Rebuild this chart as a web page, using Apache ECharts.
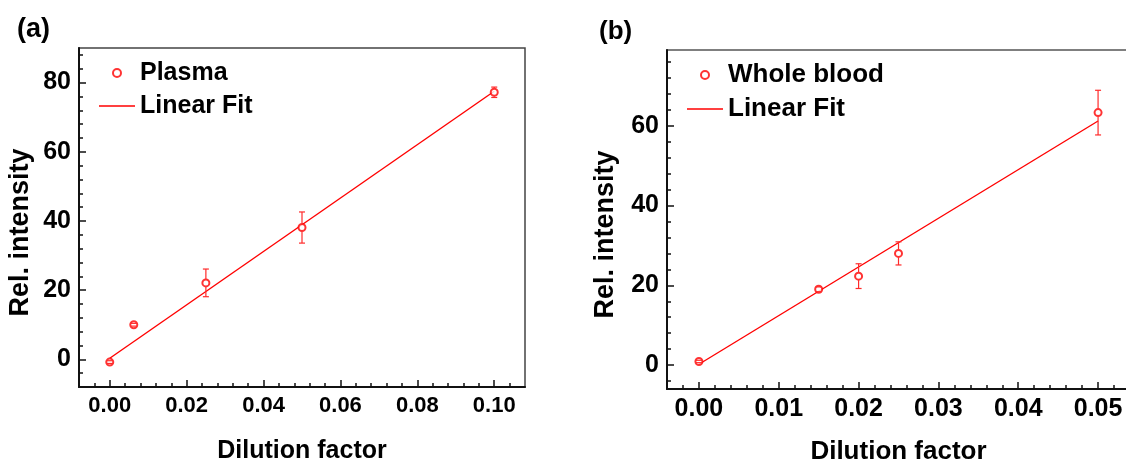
<!DOCTYPE html>
<html lang="en">
<head>
<meta charset="UTF-8" />
<title>Rel. intensity vs Dilution factor</title>
<script src="https://cdn.jsdelivr.net/npm/echarts@6/dist/echarts.min.js"></script>
<style>
  html, body { margin: 0; padding: 0; background: #fff; }
  #chart { width: 1126px; height: 463px; }
</style>
</head>
<body>
<div id="chart"></div>
<script>
  // (a) plasma
  const plasmaX = [0, 0.00625, 0.025, 0.05, 0.1];
  const plasmaY = [-0.8, 10.0, 22.1, 38.1, 77.2];
  const plasmaErr = [0.4, 0.4, 4.0, 4.5, 1.5];
  const plasmaFitX = [0, 0.1];
  const plasmaFitY = [0.3, 77.5];
  const plasmaXTicks = [0, 0.02, 0.04, 0.06, 0.08, 0.1];
  const plasmaYTicks = [0, 20, 40, 60, 80];

  // (b) whole blood
  const bloodX = [0, 0.015, 0.02, 0.025, 0.05];
  const bloodY = [0.9, 19.0, 22.3, 28.0, 63.3];
  const bloodErr = [0.3, 0.6, 3.1, 2.9, 5.6];
  const bloodFitX = [0, 0.05];
  const bloodFitY = [0.2, 61.2];
  const bloodXTicks = [0, 0.01, 0.02, 0.03, 0.04, 0.05];
  const bloodYTicks = [0, 20, 40, 60];

  const FONT = "'Liberation Sans', Arial, Helvetica, sans-serif";
  const RED = "#ff0000";

  const chart = echarts.init(document.getElementById("chart"));

  function zip(a, b, c) {
    return a.map((v, i) => (c ? [v, b[i], c[i]] : [v, b[i]]));
  }

  function errorBar(params, api) {
    const x = api.value(0), y = api.value(1), e = api.value(2);
    const hi = api.coord([x, y + e]);
    const lo = api.coord([x, y - e]);
    const c = api.coord([x, y]);
    const r = 4, cap = 3;
    const style = { stroke: "#ff2a2a", lineWidth: 1.2 };
    const kids = [
      { type: "line", shape: { x1: hi[0] - cap, y1: hi[1], x2: hi[0] + cap, y2: hi[1] }, style: style },
      { type: "line", shape: { x1: lo[0] - cap, y1: lo[1], x2: lo[0] + cap, y2: lo[1] }, style: style },
    ];
    // stem stops at the circle edge
    if (hi[1] < c[1] - r) kids.push({ type: "line", shape: { x1: c[0], y1: hi[1], x2: c[0], y2: c[1] - r }, style: style });
    if (lo[1] > c[1] + r) kids.push({ type: "line", shape: { x1: c[0], y1: c[1] + r, x2: c[0], y2: lo[1] }, style: style });
    return { type: "group", children: kids };
  }

  // plot frames (px) and their axis ranges
  const panelA = { box: { left: 79, top: 48, width: 446, height: 339 }, x: [-0.008, 0.108], y: [-8, 90] };
  const panelB = { box: { left: 667, top: 50, width: 463, height: 339 }, x: [-0.004, 0.054], y: [-6, 79] };

  // a grid that covers only [lo, hi] of one axis of a panel, so interval ticks start at lo
  function subBox(p, dim, lo, hi) {
    const b = Object.assign({}, p.box);
    if (dim === "x") {
      const s = b.width / (p.x[1] - p.x[0]);
      b.left = p.box.left + (lo - p.x[0]) * s;
      b.width = (hi - lo) * s;
    } else {
      const s = b.height / (p.y[1] - p.y[0]);
      b.top = p.box.top + (p.y[1] - hi) * s;
      b.height = (hi - lo) * s;
    }
    return b;
  }

  const grids = [];
  const xAxes = [];
  const yAxes = [];
  const hidden = (g) => ({ gridIndex: g, type: "value", show: false, min: 0, max: 1 });
  const tickLine = { color: "#111", width: 1.5 };
  const labelStyle = (size) => ({ fontSize: size, fontWeight: "bold", fontFamily: FONT, color: "#000" });

  // main frame: axis lines + names
  function addFrame(p, border, nameSizeX, gapX, gapY) {
    const g = grids.length;
    grids.push(Object.assign({ show: true, borderColor: border, borderWidth: 1.5, outerBoundsMode: "none" }, p.box));
    xAxes.push({
      gridIndex: g, type: "value", min: p.x[0], max: p.x[1],
      axisLine: { onZero: false, lineStyle: { color: "#111", width: 2 } },
      axisTick: { show: false }, axisLabel: { show: false }, splitLine: { show: false },
      name: "Dilution factor", nameLocation: "middle", nameGap: gapX, nameMoveOverlap: false,
      nameTextStyle: labelStyle(nameSizeX),
    });
    yAxes.push({
      gridIndex: g, type: "value", min: p.y[0], max: p.y[1],
      axisLine: { onZero: false, lineStyle: { color: "#111", width: 2 } },
      axisTick: { show: false }, axisLabel: { show: false }, splitLine: { show: false },
      name: "Rel. intensity", nameLocation: "middle", nameGap: gapY, nameMoveOverlap: false,
      nameTextStyle: Object.assign(labelStyle(27), { padding: [0, 30, 0, 0] }),
    });
    return g;
  }

  // tick (and label) axis along one side of a panel
  function addTicks(p, dim, lo, hi, step, len, labelSize, fmt) {
    const g = grids.length;
    grids.push(Object.assign({ show: false, outerBoundsMode: "none" }, subBox(p, dim, lo, hi)));
    const ax = {
      gridIndex: g, type: "value", min: lo, max: hi, interval: step,
      axisLine: { show: false, onZero: false },
      axisTick: { show: true, inside: true, length: len, lineStyle: tickLine },
      axisLabel: labelSize ? Object.assign({ show: true, margin: 8, formatter: fmt }, labelStyle(labelSize)) : { show: false },
      splitLine: { show: false },
    };
    if (dim === "x") { xAxes.push(ax); yAxes.push(hidden(g)); }
    else { yAxes.push(ax); xAxes.push(hidden(g)); }
  }

  const gA = addFrame(panelA, "#444", 25, 52, 45);
  const gB = addFrame(panelB, "#555", 26, 50, 48);

  const fx = (v) => v.toFixed(2);
  const fy = (v) => String(v);
  addTicks(panelA, "x", plasmaXTicks[0], plasmaXTicks[plasmaXTicks.length - 1], 0.02, 7, 22, fx);
  addTicks(panelA, "x", -0.004, 0.104, 0.004, 4);
  addTicks(panelA, "y", plasmaYTicks[0], plasmaYTicks[plasmaYTicks.length - 1], 20, 7, 25, fy);
  addTicks(panelA, "y", -4, 88, 4, 4);
  addTicks(panelB, "x", bloodXTicks[0], bloodXTicks[bloodXTicks.length - 1], 0.01, 7, 25, fx);
  addTicks(panelB, "x", -0.002, 0.052, 0.002, 4);
  addTicks(panelB, "y", bloodYTicks[0], bloodYTicks[bloodYTicks.length - 1], 20, 7, 25, fy);
  addTicks(panelB, "y", -4, 76, 4, 4);

  const fitIcon = "path://M0,0 H36 V1.4 H0 Z";
  const legendText = (size) => Object.assign(labelStyle(size), { lineHeight: 28 });

  function panelSeries(g, name, xs, ys, errs, fx2, fy2) {
    return [
      { name: "Linear Fit", type: "line", xAxisIndex: g, yAxisIndex: g, data: zip(fx2, fy2),
        symbol: "none", lineStyle: { color: RED, width: 1.4 }, itemStyle: { color: RED }, z: 3 },
      { name: name, type: "scatter", xAxisIndex: g, yAxisIndex: g, data: zip(xs, ys),
        symbol: "emptyCircle", symbolSize: 7, itemStyle: { color: RED, borderColor: RED, borderWidth: 1.5 }, z: 4 },
      { type: "custom", xAxisIndex: g, yAxisIndex: g, data: zip(xs, ys, errs),
        encode: { x: 0, y: 1 }, renderItem: errorBar, z: 5 },
    ];
  }

  const option = {
    animation: false,
    backgroundColor: "#fff",
    title: [
      { text: "(a)", left: 17, top: 16, padding: 0, textStyle: labelStyle(27) },
      { text: "(b)", left: 599, top: 19, padding: 0, textStyle: labelStyle(26) },
    ],
    legend: [
      { data: ["Plasma", { name: "Linear Fit", icon: fitIcon }], orient: "vertical", left: 99, top: 59, padding: 0,
        itemWidth: 36, itemHeight: 8, itemGap: 5, selectedMode: false, textStyle: legendText(25) },
      { data: ["Whole blood", { name: "Linear Fit", icon: fitIcon }], orient: "vertical", left: 687, top: 61, padding: 0,
        itemWidth: 36, itemHeight: 8, itemGap: 6, selectedMode: false, textStyle: legendText(26) },
    ],
    grid: grids,
    xAxis: xAxes,
    yAxis: yAxes,
    series: [].concat(
      panelSeries(gA, "Plasma", plasmaX, plasmaY, plasmaErr, plasmaFitX, plasmaFitY),
      panelSeries(gB, "Whole blood", bloodX, bloodY, bloodErr, bloodFitX, bloodFitY)
    ),
  };
  chart.setOption(option);
</script>
</body>
</html>
